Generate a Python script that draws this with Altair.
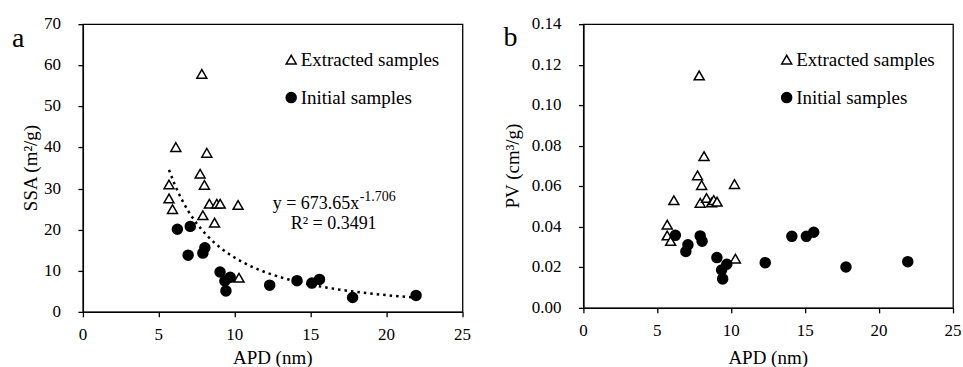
import altair as alt
import pandas as pd

FONT = "Liberation Serif"

series_names = ["Extracted samples", "Initial samples"]

# Extracted samples
apd_ext = [5.67, 5.67, 5.90, 6.12, 7.72, 7.83, 7.90, 8.00, 8.16, 8.33, 8.67, 8.82, 9.04, 10.22, 10.28]
ssa_ext = [31.0, 27.6, 25.0, 40.1, 33.6, 57.9, 23.5, 30.9, 38.7, 26.3, 21.7, 26.3, 26.3, 26.0, 8.3]
pv_ext = [0.0411, 0.0357, 0.0330, 0.0531, 0.0654, 0.1147, 0.0518, 0.0606, 0.0749, 0.0542, 0.0520, 0.0532, 0.0524, 0.0611, 0.0243]

# Initial samples
apd_ini = [6.22, 7.07, 6.93, 7.90, 8.03, 9.03, 9.70, 9.35, 9.42, 12.30, 14.10, 15.08, 15.58, 17.76, 21.94]
ssa_ini = [20.1, 20.8, 13.8, 14.3, 15.6, 9.7, 8.4, 7.5, 5.1, 6.5, 7.6, 7.0, 7.9, 3.5, 4.0]
pv_ini = [0.0358, 0.0311, 0.0278, 0.0355, 0.0329, 0.0248, 0.0215, 0.0187, 0.0143, 0.0223, 0.0353, 0.0353, 0.0373, 0.0202, 0.0228]

x_ticks = [0, 5, 10, 15, 20, 25]
ssa_ticks = [0, 10, 20, 30, 40, 50, 60, 70]
pv_ticks = [0, 0.02, 0.04, 0.06, 0.08, 0.10, 0.12, 0.14]

x_title = "APD (nm)"
ssa_title = "SSA (m\u00b2/g)"
pv_title = "PV (cm\u00b3/g)"

eq_main = "y = 673.65x"
eq_exp = "-1.706"
r2_text = "R\u00b2 = 0.3491"

rows = []
for a, s, p in zip(apd_ext, ssa_ext, pv_ext):
    rows.append({"APD": a, "SSA": s, "PV": p, "series": series_names[0]})
for a, s, p in zip(apd_ini, ssa_ini, pv_ini):
    rows.append({"APD": a, "SSA": s, "PV": p, "series": series_names[1]})
df = pd.DataFrame(rows)

AXIS_COMMON = dict(
    labels=False, title=None,
    domainColor="black", domainWidth=1.3, tickColor="black", tickWidth=1.3, tickSize=5,
    grid=False,
)


def one_text(txt):
    return pd.DataFrame({"t": [txt]})


def txt(text, x, y, size, align="left", baseline="alphabetic", angle=None):
    kw = dict(font=FONT, fontSize=size, align=align, baseline=baseline, color="black")
    if angle is not None:
        kw["angle"] = angle
    return alt.Chart(one_text(text)).mark_text(**kw).encode(
        x=alt.value(x), y=alt.value(y), text="t:N")


def panel(ycol, ytitle, yticks, yfmt, width, height, letter, letter_x, letter_y,
          ytitle_x, legend_x, legend_y, with_fit):
    base = alt.Chart(df)
    x_axis = alt.Axis(values=x_ticks, **AXIS_COMMON)
    y_axis = alt.Axis(values=yticks, **AXIS_COMMON)
    x_scale = alt.Scale(domain=[0, 25], nice=False)
    y_scale = alt.Scale(domain=[yticks[0], yticks[-1]], nice=False)
    leg = alt.Legend(orient="none", legendX=legend_x, legendY=legend_y, title=None,
                     labelFont=FONT, labelFontSize=19, labelColor="black",
                     symbolSize=100, symbolStrokeWidth=1.5,
                     rowPadding=18, labelOffset=0, padding=0)
    pts = base.mark_point(filled=True, strokeWidth=1.5, size=100, opacity=1).encode(
        x=alt.X("APD:Q", scale=x_scale, axis=x_axis),
        y=alt.Y(f"{ycol}:Q", scale=y_scale, axis=y_axis),
        shape=alt.Shape("series:N", scale=alt.Scale(domain=series_names, range=["triangle-up", "circle"]), legend=leg),
        fill=alt.Fill("series:N", scale=alt.Scale(domain=series_names, range=["white", "black"]), legend=leg),
        stroke=alt.Stroke("series:N", scale=alt.Scale(domain=series_names, range=["black", "black"]), legend=leg),
    )
    layers = [pts]
    if with_fit:
        fit = base.transform_regression("APD", ycol, method="pow").mark_line(
            color="black", strokeWidth=2.5, strokeDash=[2.5, 4]
        ).encode(x=alt.X("APD:Q", scale=x_scale, axis=x_axis),
                 y=alt.Y(f"{ycol}:Q", scale=y_scale, axis=y_axis))
        layers = [fit, pts]

    # tick labels through the scales
    xl = alt.Chart(pd.DataFrame({"v": x_ticks})).mark_text(
        font=FONT, fontSize=17, align="center", baseline="alphabetic", color="black"
    ).encode(x=alt.X("v:Q", scale=x_scale, axis=x_axis), y=alt.value(height + 28),
             text=alt.Text("v:Q", format="d"))
    yl = alt.Chart(pd.DataFrame({"v": yticks})).mark_text(
        font=FONT, fontSize=17, align="right", baseline="middle", color="black"
    ).encode(y=alt.Y("v:Q", scale=y_scale, axis=y_axis), x=alt.value(-22),
             text=alt.Text("v:Q", format=yfmt))
    layers += [xl, yl]
    layers.append(txt(x_title, width / 2, 340, 19, align="center"))
    layers.append(txt(ytitle, ytitle_x, height / 2, 19, align="center", baseline="middle", angle=270))
    layers.append(txt(letter, letter_x, letter_y, 28))
    if with_fit:
        layers.append(txt(eq_main, 190, 185, 18))
        layers.append(txt(eq_exp, 277, 177, 14))
        layers.append(txt(r2_text, 208, 205, 18))
    return alt.layer(*layers).properties(width=width, height=height)


pa = panel("SSA", ssa_title, ssa_ticks, "d", 380, 288, "a", -71, 23, -52, 199, 26, True)
pb = panel("PV", pv_title, pv_ticks, ".2f", 370, 284, "b", -80, 22, -70, 194, 26, False)

chart = alt.hconcat(pa, pb, spacing=121, bounds="flush",
                    padding={"left": 11, "top": 14, "right": 0, "bottom": 0}).resolve_scale(
    x="independent", y="independent", shape="independent", fill="independent", stroke="independent"
).resolve_legend(shape="independent", fill="independent", stroke="independent").configure_view(
    stroke="black", strokeWidth=1.3
)

chart.save("out.html", embed_options={"renderer": "svg", "actions": False})
